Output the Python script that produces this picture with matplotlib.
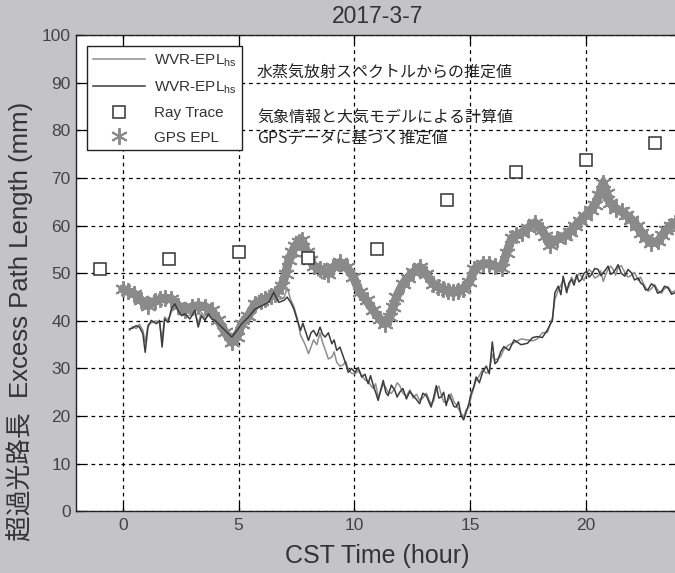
import matplotlib
matplotlib.use("Agg")
import matplotlib.pyplot as plt

# ---------------- data ----------------
ray_hours = [-1, 2, 5, 8, 11, 14, 17, 20, 23]
ray_values = [50.8, 52.9, 54.4, 53.2, 55.1, 65.4, 71.2, 73.7, 77.3]

gps_hours = [0.0, 0.22, 0.5, 0.8, 1.09, 1.38, 1.6, 1.81, 2.1, 2.4, 2.68, 2.97, 3.26, 3.55,
             3.84, 4.13, 4.42, 4.71, 4.93, 5.14, 5.43, 5.72, 5.95, 6.16, 6.4, 6.59, 6.88,
             7.03, 7.17, 7.32, 7.46, 7.6, 7.75, 7.95, 8.1, 8.24, 8.52, 8.7, 8.88, 9.1, 9.38,
             9.67, 9.96, 10.24, 10.53, 10.82, 11.1, 11.32, 11.53, 11.68, 11.82, 12.1, 12.3,
             12.54, 12.82, 13.1, 13.4, 13.6, 13.83, 14.05, 14.25, 14.47, 14.68, 14.97, 15.19,
             15.54, 15.83, 16.08, 16.36, 16.58, 16.8, 17.0, 17.23, 17.5, 17.8, 18.09, 18.25,
             18.45, 18.74, 19.09, 19.3, 19.53, 19.75, 19.96, 20.2, 20.39, 20.58, 20.75, 20.9,
             21.03, 21.3, 21.54, 21.75, 21.97, 22.2, 22.4, 22.6, 22.83, 23.12, 23.3, 23.48,
             23.66, 23.84, 24.0]
gps_values = [46.7, 46.2, 45.7, 44.3, 43.2, 44.1, 44.5, 44.8, 44.6, 43.2, 42.3, 42.9, 43.2, 43.0,
              42.2, 40.1, 37.6, 35.5, 36.6, 39.4, 41.1, 43.6, 44.2, 44.6, 45.2, 45.7, 47.4,
              49.9, 52.7, 54.5, 55.8, 56.6, 56.9, 54.4, 52.8, 51.6, 50.9, 50.4, 49.9, 51.3, 52.3,
              51.3, 49.2, 46.0, 44.3, 42.2, 40.4, 39.4, 40.8, 43.0, 45.0, 47.8, 49.0,
              50.2, 51.3, 49.9, 47.8, 47.2, 46.7, 46.3, 46.0, 46.2, 46.7, 48.1, 50.9,
              52.0, 52.0, 51.5, 51.1, 54.3, 57.4, 58.0, 58.5, 59.5, 60.6, 59.2, 57.8,
              56.0, 57.1, 57.8, 58.7, 59.9, 61.0, 62.0, 63.2, 64.4, 66.5, 69.0, 66.8,
              64.8, 63.6, 63.0, 62.2, 61.3, 60.0, 58.5, 57.4, 56.4, 56.7, 58.0, 59.2,
              60.0, 60.6, 59.8]

wvr_hours = [0.29, 0.43, 0.58, 0.72, 0.87, 0.97, 1.09, 1.23, 1.45, 1.59, 1.70, 1.81, 1.96, 2.10,
             2.25, 2.39, 2.54, 2.68, 2.90, 3.12, 3.26, 3.40, 3.55, 3.70, 3.84, 3.99, 4.13, 4.42,
             4.71, 4.93, 5.14, 5.43, 5.72, 6.01, 6.30, 6.52, 6.74, 6.96, 7.10, 7.25, 7.39, 7.54,
             7.68, 7.78, 7.88, 8.02, 8.13, 8.24, 8.38, 8.52, 8.63, 8.74, 8.88, 9.03, 9.13, 9.24,
             9.38, 9.53, 9.63, 9.74, 9.88, 10.03, 10.17, 10.32, 10.46, 10.60, 10.70, 10.82,
             10.92, 11.03, 11.14, 11.25, 11.36, 11.46, 11.60, 11.75, 11.85, 11.96, 12.10, 12.25,
             12.40, 12.54, 12.68, 12.82, 12.96, 13.11, 13.22, 13.32, 13.43, 13.54, 13.65, 13.75,
             13.86, 13.97, 14.08, 14.18, 14.30, 14.40, 14.50, 14.61, 14.72, 14.83, 14.94, 15.04,
             15.15, 15.26, 15.40, 15.54, 15.70, 15.83, 15.96, 16.07, 16.18, 16.32, 16.46, 16.68,
             16.90, 17.20, 17.48, 17.70, 17.90, 18.12, 18.34, 18.56, 18.66, 18.81, 18.92, 19.02,
             19.17, 19.27, 19.38, 19.49, 19.60, 19.70, 19.81, 19.92, 20.03, 20.14, 20.24, 20.38,
             20.53, 20.64, 20.75, 20.86, 20.96, 21.07, 21.18, 21.28, 21.39, 21.53, 21.68, 21.82,
             21.97, 22.10, 22.26, 22.36, 22.47, 22.58, 22.69, 22.83, 22.97, 23.10, 23.26, 23.40,
             23.55, 23.70, 23.84, 24.0]
wvr_dark = [38.3, 38.5, 39.0, 38.7, 37.3, 33.4, 38.7, 40.1, 39.4, 40.1, 34.5, 40.4, 39.7, 42.5,
            43.6, 42.2, 41.1, 41.5, 40.4, 42.2, 38.7, 41.1, 40.1, 41.5, 40.4, 40.1, 39.4, 38.0,
            36.6, 38.0, 39.4, 40.8, 42.5, 43.2, 43.9, 46.0, 43.9, 44.3, 45.0, 43.9, 42.5, 40.1,
            38.0, 39.5, 38.0, 35.9, 37.5, 38.0, 36.8, 38.7, 37.2, 36.6, 37.5, 35.2, 36.0, 33.8,
            34.5, 32.4, 31.0, 29.2, 30.0, 29.2, 30.2, 28.2, 28.8, 26.8, 28.5, 26.4,
            25.0, 23.3, 25.5, 27.5, 25.0, 24.3, 26.5, 25.4, 24.0, 25.0, 25.8, 23.6,
            25.2, 24.3, 23.5, 22.6, 24.8, 24.3, 23.0, 21.9, 24.0, 26.4, 23.8, 24.0,
            25.0, 22.2, 24.5, 23.5, 22.0, 21.9, 23.0, 20.1, 19.2, 20.8, 22.5, 24.7,
            26.0, 28.2, 27.0, 29.2, 30.5, 28.9, 35.6, 31.0, 31.5, 33.5, 34.6, 33.8,
            36.0, 35.0, 35.3, 36.5, 36.7, 36.5, 38.1, 40.2, 45.9, 47.3, 45.5, 49.4,
            45.9, 48.0, 48.7, 47.5, 49.7, 48.2, 48.7, 50.0, 50.4, 49.2, 49.7, 51.0,
            50.8, 49.5, 50.1, 50.8, 51.5, 49.8, 50.1, 50.8, 51.8, 50.0, 49.4, 50.8,
            50.1, 48.6, 49.0, 48.0, 47.6, 46.5, 46.6, 47.8, 47.3, 45.8, 46.2, 47.3,
            46.9, 45.6, 45.9, 46.3]
wvr_light = [38.0, 38.8, 38.4, 39.3, 38.0, 35.5, 39.2, 39.6, 40.0, 39.5, 36.0, 40.8, 40.2, 41.8,
             44.0, 42.8, 41.5, 41.0, 41.2, 41.5, 39.5, 41.8, 40.6, 41.0, 41.0, 39.8, 39.8, 37.6,
             37.0, 38.4, 39.0, 41.2, 42.0, 43.6, 44.4, 45.0, 44.5, 44.8, 47.0, 44.5, 43.0, 40.5,
             37.0, 36.0, 35.0, 33.1, 34.5, 36.0, 35.0, 37.5, 35.5, 34.0, 32.0, 32.4, 33.5, 31.3,
             30.5, 30.8, 31.5, 29.8, 29.0, 28.8, 29.5, 28.6, 27.6, 27.3, 26.5, 25.8,
             26.8, 24.0, 25.2, 26.8, 26.0, 25.0, 24.8, 25.8, 27.0, 26.4, 24.8, 24.2,
             25.5, 23.8, 24.6, 23.3, 23.8, 24.8, 23.5, 22.5, 23.2, 25.6, 26.3, 24.6,
             23.0, 22.8, 23.5, 24.7, 23.0, 22.4, 21.5, 20.6, 19.8, 21.3, 21.8, 24.0,
             25.8, 27.5, 28.5, 29.8, 29.0, 29.5, 33.0, 31.8, 32.0, 32.5, 34.0, 35.0,
             35.4, 36.2, 36.0, 35.8, 36.2, 37.5, 37.6, 40.8, 44.5, 46.5, 47.5, 48.6,
             46.8, 47.2, 49.2, 48.2, 49.0, 50.0, 49.3, 48.5, 49.8, 50.8, 50.3, 49.0,
             49.4, 50.5, 48.3, 49.8, 50.8, 51.5, 50.8, 49.6, 51.2, 51.6, 50.2, 49.2,
             49.6, 50.2, 48.5, 49.2, 48.0, 47.0, 46.2, 46.8, 47.6, 46.5, 45.8, 46.8,
             47.2, 46.0, 46.3, 45.8]

x_ticks = [0, 5, 10, 15, 20]
y_ticks = [0, 10, 20, 30, 40, 50, 60, 70, 80, 90, 100]

title_text = "2017-3-7"
xlabel_text = "CST Time (hour)"
ylabel_text = "超過光路長  Excess Path Length (mm)"
legend_labels = ["WVR-EPL$_{\\mathregular{hs}}$", "WVR-EPL$_{\\mathregular{hs}}$", "Ray Trace", "GPS EPL"]
notes = ["水蒸気放射スペクトルからの推定値", "気象情報と大気モデルによる計算値", "GPSデータに基づく推定値"]

# ---------------- figure ----------------
LAT = ["Liberation Sans", "Noto Sans CJK JP", "DejaVu Sans"]
JP = ["Noto Sans CJK JP", "DejaVu Sans"]
plt.rcParams["font.family"] = LAT
plt.rcParams["mathtext.fontset"] = "custom"
plt.rcParams["mathtext.rm"] = "Liberation Sans"

bg = "#c4c4c6"
fig = plt.figure(figsize=(6.75, 5.73), dpi=100, facecolor=bg)
ax = fig.add_axes([0.1132, 0.1077, 0.892, 0.8307])
ax.set_facecolor("white")

gps_col = "#8a8a8a"
ax.plot(gps_hours, gps_values, color=gps_col, lw=6.5, solid_capstyle="round",
        solid_joinstyle="round", zorder=2)
l4, = ax.plot(gps_hours, gps_values, ls="none", marker=(6, 2, 0), ms=12, color=gps_col,
              mec=gps_col, mew=1.4, zorder=3)
l1, = ax.plot(wvr_hours, wvr_light, color="#8e8e8e", lw=1.1, zorder=4)
l2, = ax.plot(wvr_hours, wvr_dark, color="#3c3c3c", lw=1.1, zorder=5)
l3, = ax.plot(ray_hours, ray_values, ls="none", marker="s", ms=9, mfc="white",
              mec="#333333", mew=1.1, zorder=6)

ax.set_xlim(-2, 24)
ax.set_ylim(0, 100)
ax.set_xticks(x_ticks)
ax.set_yticks(y_ticks)
ax.grid(True, color="black", ls=(0, (3, 3)), lw=0.9)
ax.tick_params(direction="in", length=6, width=0.9, top=True, right=True,
               labelsize=12.5, labelcolor="#444444", pad=5)
ax.tick_params(axis="y", pad=4)
for s in ax.spines.values():
    s.set_linewidth(1.0)
    s.set_color("#222222")

ax.set_title(title_text, fontsize=16.5, color="#333333", pad=9)
ax.set_xlabel(xlabel_text, fontsize=18, color="#333333", labelpad=8)
fig.text(0.029, 0.44, ylabel_text, rotation=90, ha="center", va="center",
         fontsize=18.5, color="#333333", family=LAT)

leg = ax.legend([l1, l2, l3, l4], legend_labels, loc="upper left",
                bbox_to_anchor=(0.0176, 0.977), borderaxespad=0.0, fontsize=11,
                frameon=True, fancybox=False, edgecolor="#222222", framealpha=1.0,
                handlelength=3.4, handletextpad=0.6, labelspacing=0.68,
                borderpad=0.38, markerfirst=True)
leg.get_frame().set_linewidth(1.0)
for t in leg.get_texts():
    t.set_color("#333333")

ax.text(0.30, 0.92, notes[0], transform=ax.transAxes, fontsize=11.5, family=JP,
        va="center", ha="left", color="#222222")
ax.text(0.30, 0.826, notes[1], transform=ax.transAxes, fontsize=11.5, family=JP,
        va="center", ha="left", color="#222222")
ax.text(0.30, 0.784, notes[2], transform=ax.transAxes, fontsize=11.5, family=JP,
        va="center", ha="left", color="#222222")

fig.savefig("out.png", dpi=100, facecolor=bg)
